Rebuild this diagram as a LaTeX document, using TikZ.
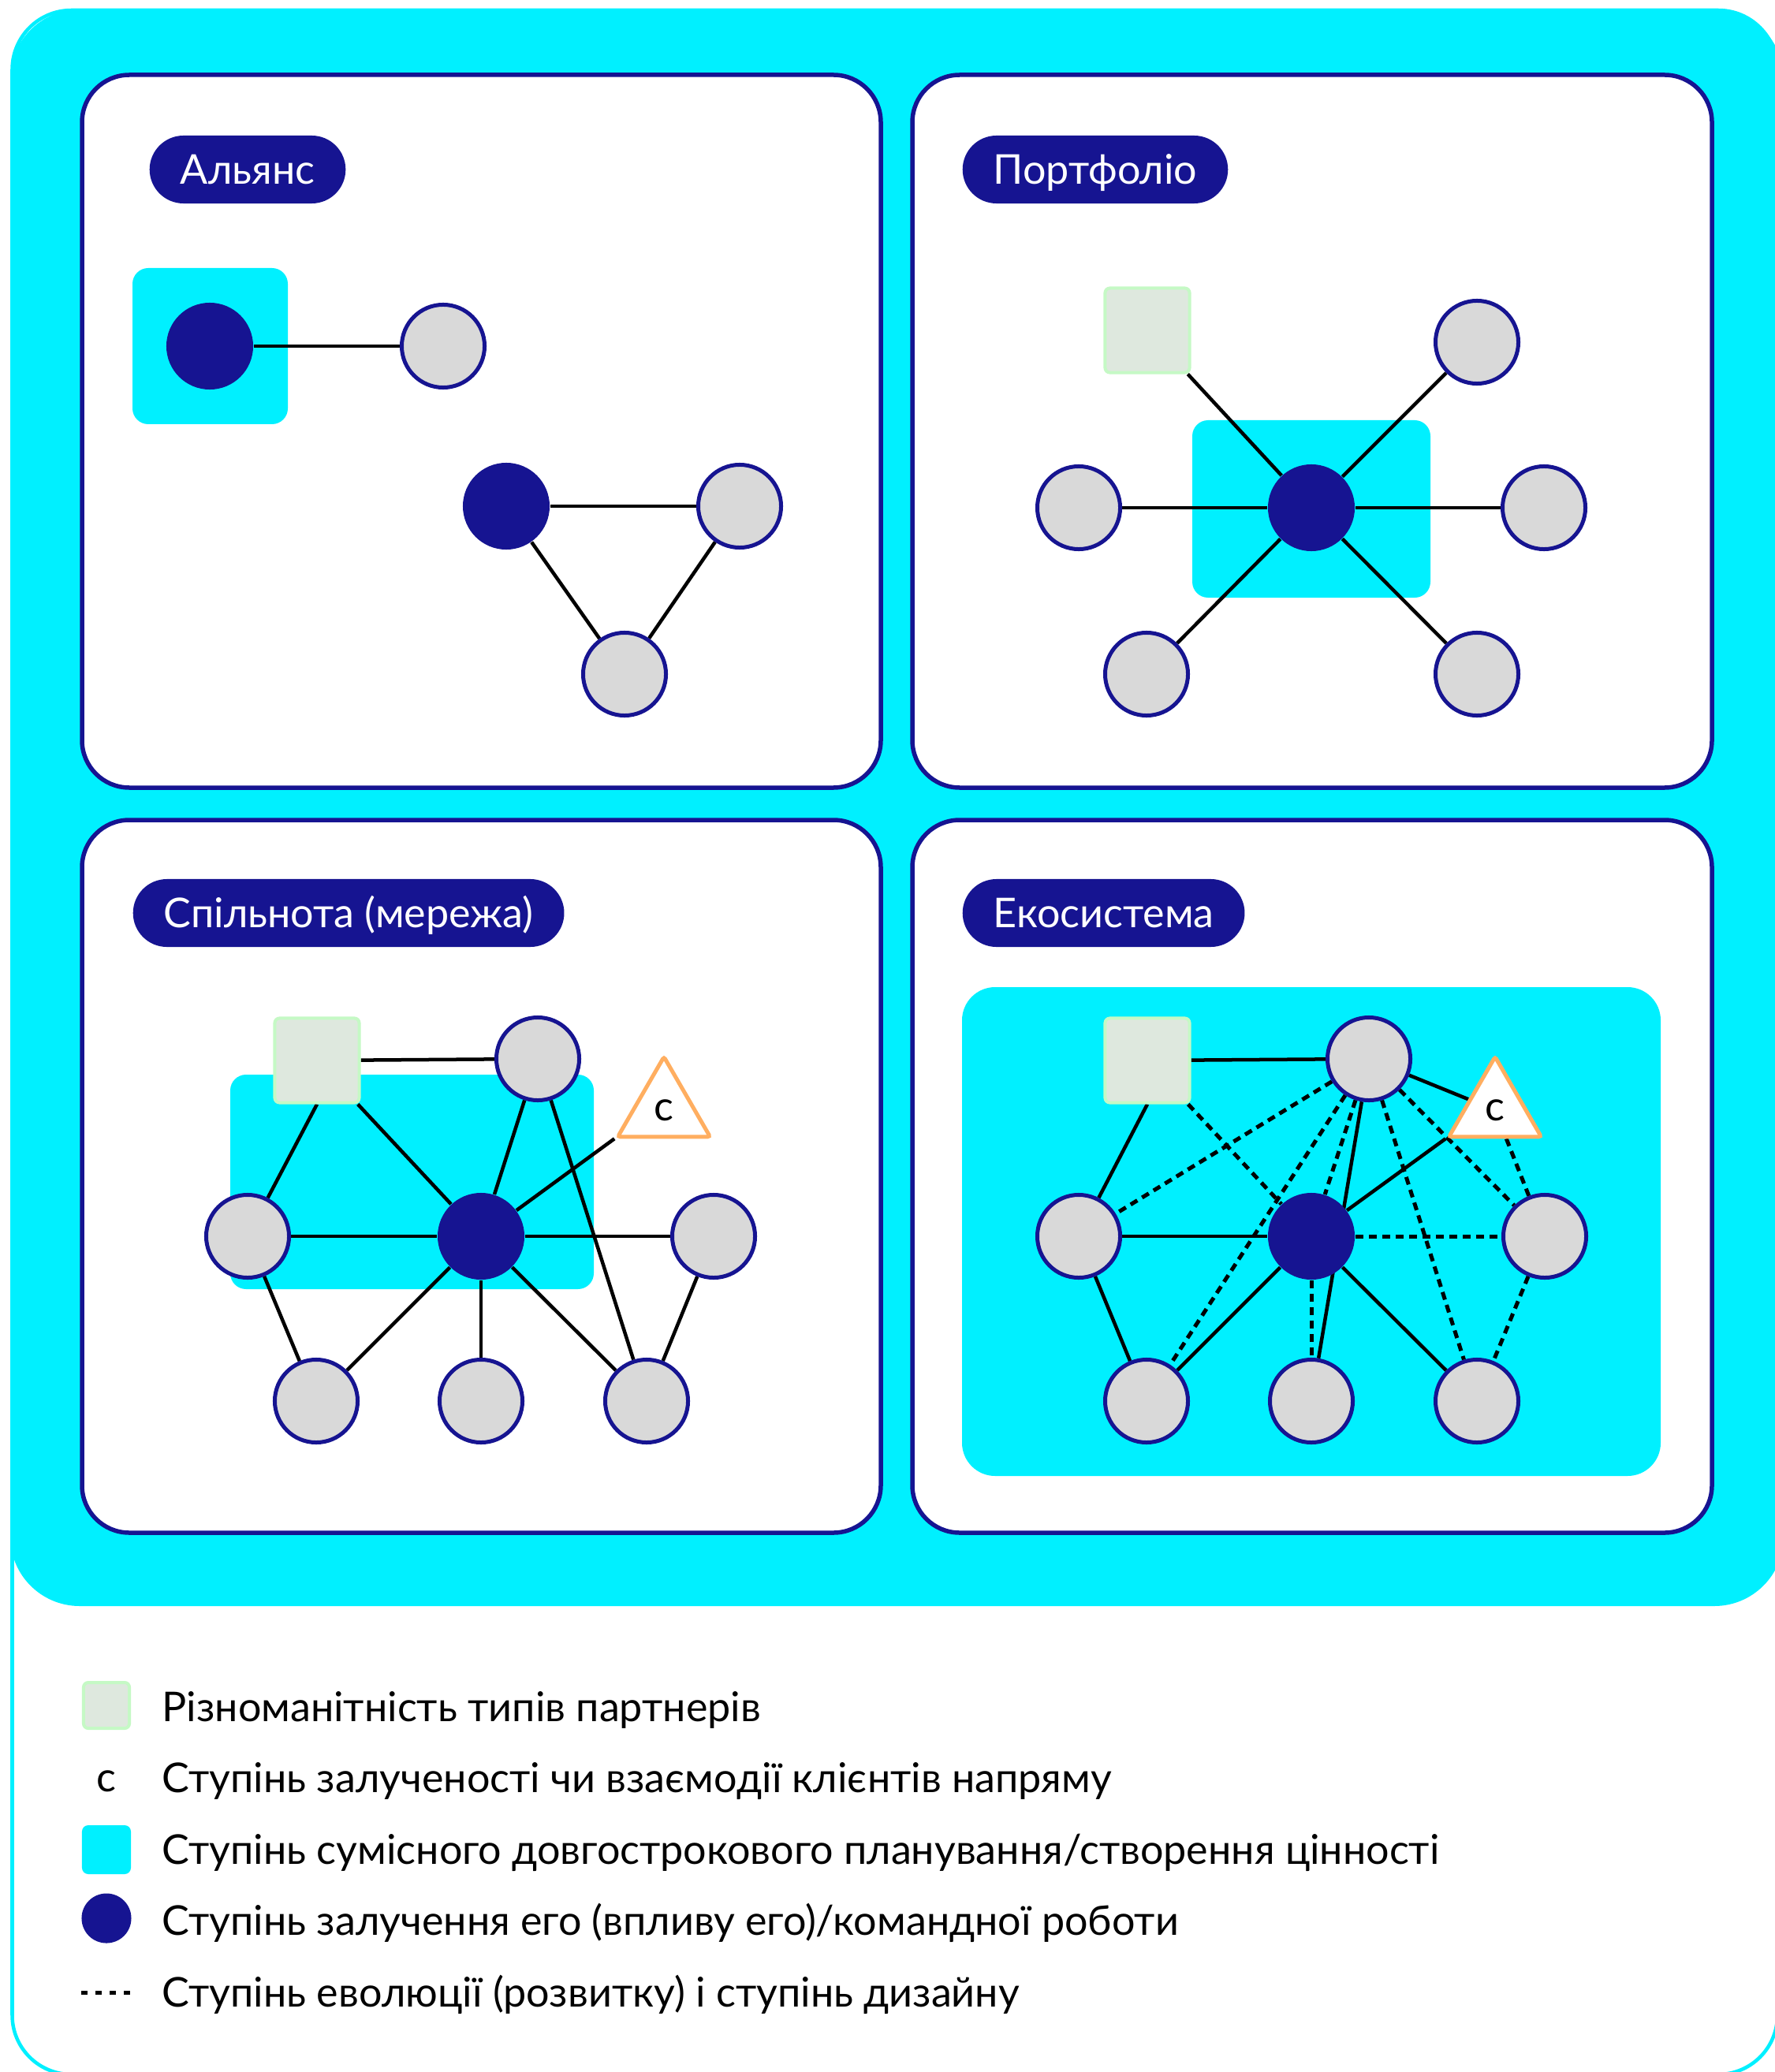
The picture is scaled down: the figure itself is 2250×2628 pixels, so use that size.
\documentclass[tikz,border=0pt]{standalone}
\usepackage{fontspec}
\setmainfont{Lato}
\usetikzlibrary{shapes.geometric}
\definecolor{cyanbg}{RGB}{0,240,255}
\definecolor{navy}{RGB}{22,20,145}
\definecolor{cgray}{RGB}{217,217,217}
\definecolor{sqfill}{RGB}{222,232,222}
\definecolor{sqborder}{RGB}{197,249,197}
\definecolor{corange}{RGB}{255,174,96}
\newcommand\legfont{\fontsize{14.8pt}{18pt}\selectfont}
\pgfdeclarelayer{bg}
\pgfdeclarelayer{edges}
\pgfsetlayers{bg,edges,main}
\tikzset{
  gnode/.style={circle, draw=navy, fill=cgray, line width=0.05cm, minimum size=1.05cm, inner sep=0pt},
  nnode/.style={circle, fill=navy, minimum size=1.1cm, inner sep=0pt},
  sqnode/.style={rectangle, rounded corners=0.06cm, draw=sqborder, fill=sqfill, line width=0.04cm, minimum size=1.07cm, inner sep=0pt},
  trinode/.style={regular polygon, regular polygon sides=3, draw=corange, fill=white, line width=0.05cm, minimum size=1.35cm, inner sep=0pt, rounded corners=0.03cm, font=\legfont},
  edge/.style={line width=0.045cm, black},
  dedge/.style={line width=0.05cm, black, dash pattern=on 0.1cm off 0.07cm},
  pill/.style={rounded corners=0.43cm, fill=navy, text=white, minimum height=0.86cm, inner xsep=0.39cm, inner ysep=0pt, text height=0.37cm, text depth=0cm, anchor=west, font=\legfont},
  panel/.style={draw=navy, fill=white, line width=0.055cm, rounded corners=0.6cm},
  zone/.style={fill=cyanbg, rounded corners=0.2cm},
  legtext/.style={anchor=base west, inner sep=0pt, font=\legfont}
}
\begin{document}
\begin{tikzpicture}[x=0.01cm,y=-0.01cm]
\useasboundingbox (0,0) rectangle (2250,2628);
\clip (0,0) rectangle (2250,2628);
\begin{pgfonlayer}{bg}
  \fill[white] (0,0) rectangle (2250,2628);
  \draw[draw=cyanbg, line width=0.045cm, rounded corners=0.75cm] (15.5,13) rectangle (2254,2631);
  \fill[cyanbg, rounded corners=0.88cm] (13,12) rectangle (2262,2037);
  \draw[panel] (104,95) rectangle (1117,999);
  \draw[panel] (1157,95) rectangle (2171,999);
  \draw[panel] (104,1040) rectangle (1117,1944);
  \draw[panel] (1157,1040) rectangle (2171,1944);
  \fill[zone] (168,340) rectangle (365,538);
  \fill[zone] (1512,533) rectangle (1814,758);
  \fill[zone] (292,1363) rectangle (753,1635);
  \fill[zone, rounded corners=0.42cm] (1220,1252) rectangle (2106,1872);
\end{pgfonlayer}

% pills
\node[pill] (pA) at (189,215) {Альянс};
\node[pill] (pP) at (1220,215) {Портфоліо};
\node[pill] (pS) at (168,1158) {Спільнота (мережа)};
\node[pill] (pE) at (1220,1158) {Екосистема};

% Alliance
\node[nnode] (a1) at (266,439) {};
\node[gnode] (a2) at (562,439) {};
\node[nnode] (a3) at (642,642) {};
\node[gnode] (a4) at (938,642) {};
\node[gnode] (a5) at (792,855) {};

% Portfolio
\node[nnode] (p0) at (1663,644) {};
\node[sqnode] (ps) at (1455,419) {};
\node[gnode] (p1) at (1873,434) {};
\node[gnode] (p2) at (1368,644) {};
\node[gnode] (p3) at (1958,644) {};
\node[gnode] (p4) at (1454,855) {};
\node[gnode] (p5) at (1873,855) {};

% Community
\node[nnode] (s0) at (610,1568) {};
\node[sqnode] (ss) at (402,1345) {};
\node[gnode] (st) at (682,1343) {};
\node[gnode] (sl) at (314,1568) {};
\node[gnode] (sr) at (905,1568) {};
\node[gnode] (sb1) at (401,1777) {};
\node[gnode] (sb2) at (610,1777) {};
\node[gnode] (sb3) at (820,1777) {};
\node[trinode] (sc) at (842,1408) {c};

% Ecosystem
\node[nnode] (e0) at (1663,1568) {};
\node[sqnode] (es) at (1455,1345) {};
\node[gnode] (et) at (1736,1343) {};
\node[gnode] (el) at (1368,1568) {};
\node[gnode] (er) at (1959,1568) {};
\node[gnode] (eb1) at (1454,1777) {};
\node[gnode] (eb2) at (1663,1777) {};
\node[gnode] (eb3) at (1873,1777) {};
\node[trinode] (ec) at (1896,1408) {c};

\begin{pgfonlayer}{edges}
  \draw[edge] (a1) -- (a2);
  \draw[edge] (a3) -- (a4);
  \draw[edge] (a3) -- (a5);
  \draw[edge] (a4) -- (a5);

  \draw[edge] (p0) -- (ps);
  \draw[edge] (p0) -- (p1);
  \draw[edge] (p0) -- (p2);
  \draw[edge] (p0) -- (p3);
  \draw[edge] (p0) -- (p4);
  \draw[edge] (p0) -- (p5);

  \draw[edge] (ss) -- (st);
  \draw[edge] (ss.south) -- (sl);
  \draw[edge] (ss) -- (s0);
  \draw[edge] (st) -- (s0);
  \draw[edge] (st) -- (sb3);
  \draw[edge] (sc.corner 2) -- (s0);
  \draw[edge] (sl) -- (s0);
  \draw[edge] (s0) -- (sr);
  \draw[edge] (sl) -- (sb1);
  \draw[edge] (s0) -- (sb1);
  \draw[edge] (s0) -- (sb2);
  \draw[edge] (s0) -- (sb3);
  \draw[edge] (sr) -- (sb3);

  \draw[edge] (es) -- (et);
  \draw[edge] (es.south) -- (el);
  \draw[edge] (el) -- (e0);
  \draw[edge] (e0) -- (eb1);
  \draw[edge] (e0) -- (eb3);
  \draw[edge] (et) -- (eb2);
  \draw[edge] (et) -- (ec);
  \draw[edge] (ec.corner 2) -- (e0);
  \draw[edge] (el) -- (eb1);

  \draw[dedge] (es) -- (e0);
  \draw[dedge] (et) -- (el);
  \draw[dedge] (et) -- (eb1);
  \draw[dedge] (et) -- (e0);
  \draw[dedge] (et) -- (eb3);
  \draw[dedge] (et) -- (er);
  \draw[dedge] (e0) -- (er);
  \draw[dedge] (e0) -- (eb2);
  \draw[dedge] (ec) -- (er);
  \draw[dedge] (er) -- (eb3);
\end{pgfonlayer}

% legend
\node[sqnode, minimum size=0.58cm] (l1) at (135,2163) {};
\node[anchor=base, inner sep=0pt, font=\legfont] (l2) at (135,2272) {c};
\node[fill=cyanbg, rounded corners=0.08cm, minimum size=0.62cm, inner sep=0pt] (l3) at (135,2346) {};
\node[nnode, minimum size=0.63cm] (l4) at (135,2433) {};
\coordinate (l5a) at (103,2527);
\coordinate (l5b) at (170,2527);
\draw[line width=0.05cm, dash pattern=on 0.08cm off 0.1cm] (l5a) -- (l5b);

\node[legtext] (t1) at (205,2183) {Різноманітність типів партнерів};
\node[legtext] (t2) at (205,2273) {Ступінь залученості чи взаємодії клієнтів напряму};
\node[legtext] (t3) at (205,2364) {Ступінь сумісного довгострокового планування/створення цінності};
\node[legtext] (t4) at (205,2454) {Ступінь залучення его (впливу его)/командної роботи};
\node[legtext] (t5) at (205,2545) {Ступінь еволюції (розвитку) і ступінь дизайну};
\end{tikzpicture}
\end{document}
